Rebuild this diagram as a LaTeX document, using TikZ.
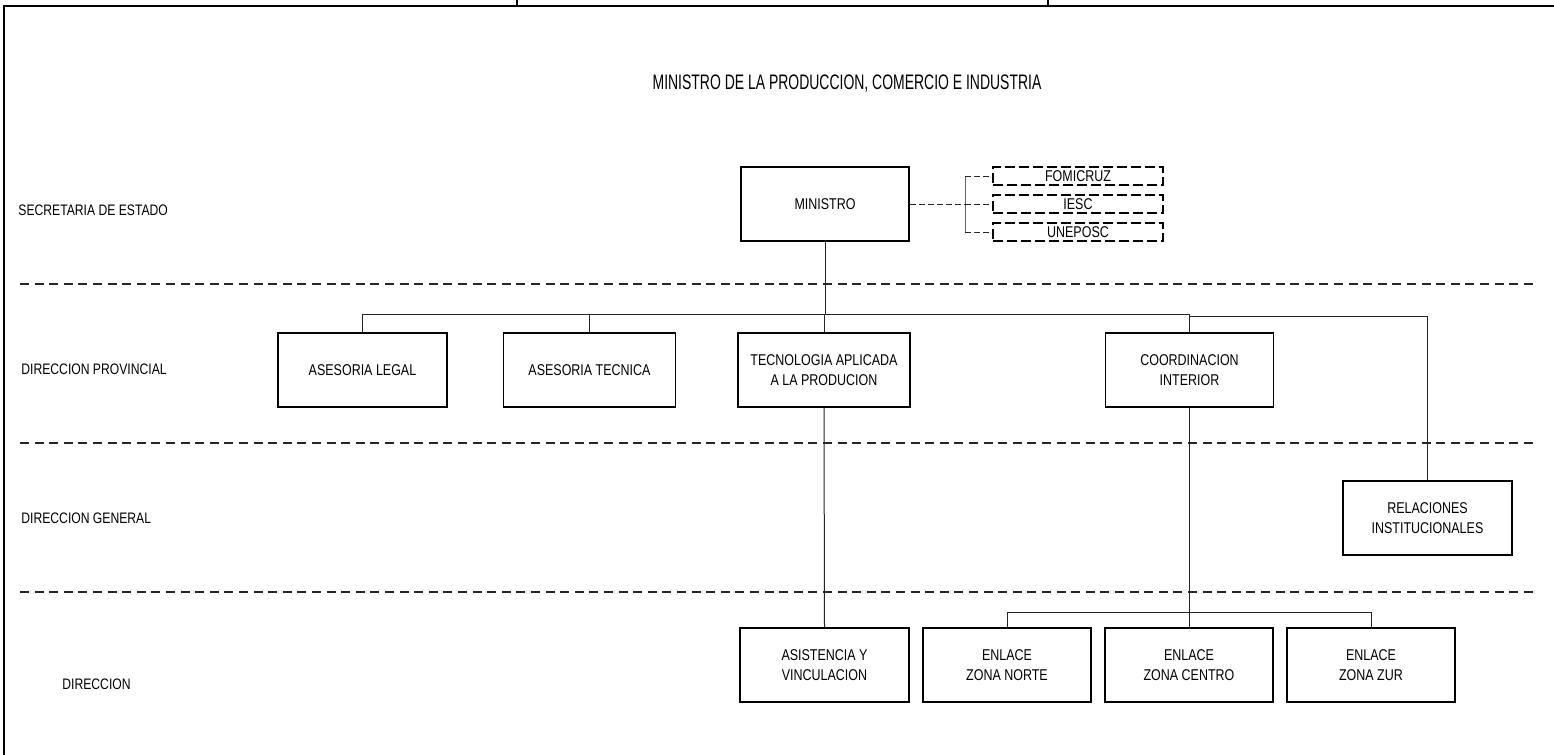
\documentclass[tikz,border=0pt]{standalone}
\usepackage{fontspec}
\setmainfont{Liberation Sans}[FakeStretch=0.8]
\newfontfamily\titlefont{Liberation Sans}[FakeStretch=0.665]
\begin{document}
\begin{tikzpicture}[x=0.5pt,y=-0.5pt,
  box/.style={draw, line width=0.9pt, minimum height=37pt, align=center, inner sep=1pt,
    font=\fontsize{7.8}{10}\selectfont},
  dbox/.style={draw, line width=0.9pt, dash pattern=on 5pt off 2pt, minimum width=85pt,
    minimum height=9pt, inner sep=0pt, font=\fontsize{7.8}{9}\selectfont},
  sepline/.style={line width=1.2pt, dash pattern=on 4.5pt off 2.8pt, black!85},
  conn/.style={line width=0.5pt, black!85},
  dconn/.style={line width=0.5pt, black!85, dash pattern=on 3pt off 1.5pt},
  lbl/.style={anchor=west, inner sep=0pt, font=\fontsize{7.6}{10}\selectfont},
  frame/.style={line width=1pt}
]
\useasboundingbox (0,0) rectangle (1554,755);
% frame
\coordinate (fTL) at (4,6);
\coordinate (fTR) at (1554,6);
\coordinate (fBL) at (4,755);
\coordinate (t1a) at (517,0);
\coordinate (t2a) at (1048,0);
\draw[frame] (fTR) -- (fTL) -- (fBL);
\draw[frame] (t1a) -- (t1a |- fTL);
\draw[frame] (t2a) -- (t2a |- fTL);

% title
\node[inner sep=0pt, font=\titlefont\fontsize{10.5}{12}\selectfont] (title) at (847,84)
  {MINISTRO DE LA PRODUCCION, COMERCIO E INDUSTRIA};

% row labels
\node[lbl] (l1) at (18,210) {SECRETARIA DE ESTADO};
\node[lbl] (l2) at (21,369) {DIRECCION PROVINCIAL};
\node[lbl] (l3) at (21,518) {DIRECCION GENERAL};
\node[lbl] (l4) at (62,684) {DIRECCION};

% separators
\coordinate (s1a) at (20,284); \coordinate (s1b) at (1537,284);
\coordinate (s2a) at (20,443); \coordinate (s2b) at (1537,443);
\coordinate (s3a) at (20,592); \coordinate (s3b) at (1537,592);
\draw[sepline] (s1a) -- (s1b);
\draw[sepline] (s2a) -- (s2b);
\draw[sepline] (s3a) -- (s3b);

% boxes
\node[box, minimum width=84pt] (ministro) at (825,204) {MINISTRO};
\node[dbox] (fomi) at (1078,176) {FOMICRUZ};
\node[dbox] (iesc) at (1078,204) {IESC};
\node[dbox] (unep) at (1078,232) {UNEPOSC};

\node[box, minimum width=84.5pt] (legal) at (362.5,370) {ASESORIA LEGAL};
\node[box, minimum width=86pt] (tecnica) at (589.5,370) {ASESORIA TECNICA};
\node[box, minimum width=86pt] (tecno) at (824,370) {TECNOLOGIA APLICADA\\A LA PRODUCION};
\node[box, minimum width=84pt] (coord) at (1189.5,370) {COORDINACION\\INTERIOR};

\node[box, minimum width=84.5pt] (relac) at (1427.5,518) {RELACIONES\\INSTITUCIONALES};

\node[box, minimum width=84.5pt] (asist) at (824.5,665) {ASISTENCIA Y\\VINCULACION};
\node[box, minimum width=84pt] (norte) at (1007,665) {ENLACE\\ZONA NORTE};
\node[box, minimum width=84pt] (centro) at (1189,665) {ENLACE\\ZONA CENTRO};
\node[box, minimum width=84pt] (zur) at (1371,665) {ENLACE\\ZONA ZUR};

% dashed links to dependent bodies
\coordinate (brk) at (965,204);
\draw[dconn] (ministro.east) -- (brk);
\draw[conn, black!60] (brk |- fomi.west) -- (brk |- unep.west);
\draw[dconn] (brk |- fomi.west) -- (fomi.west);
\draw[dconn] (brk |- iesc.west) -- (iesc.west);
\draw[dconn] (brk |- unep.west) -- (unep.west);

% main bus
\coordinate (busL) at (362,314);
\coordinate (busR) at (1427,316);
\draw[conn] (ministro.south) -- (ministro.south |- busL);
\draw[conn] (legal.north -| busL) -- (busL) -- (coord.north |- busL);
\draw[conn] (tecnica.north) -- (tecnica.north |- busL);
\draw[conn] (tecno.north) -- (tecno.north |- busL);
\draw[conn] (coord.north) -- (coord.north |- busL);
\draw[conn] (coord.north |- busR) -- (relac.north |- busR) -- (relac.north);

% lower links
\draw[conn] (tecno.south) -- (asist.north);
\coordinate (bus2) at (1007,612);
\draw[conn] (coord.south) -- (coord.south |- bus2);
\draw[conn] (norte.north) -- (bus2) -- (zur.north |- bus2) -- (zur.north);
\draw[conn] (centro.north) -- (centro.north |- bus2);
\end{tikzpicture}
\end{document}
